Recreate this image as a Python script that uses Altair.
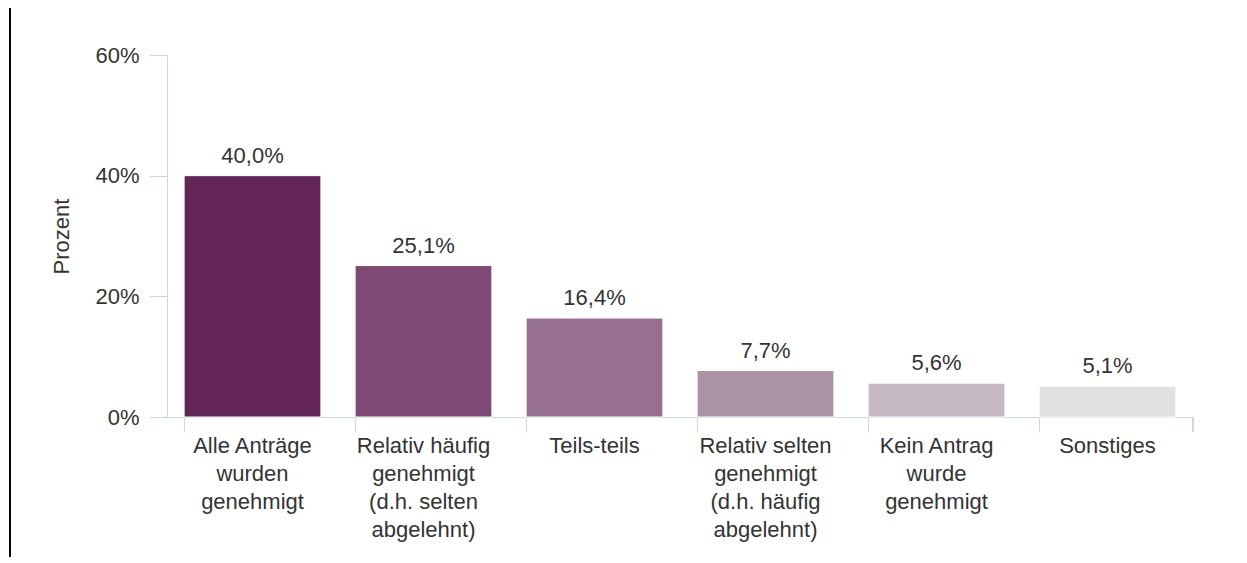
import altair as alt
import pandas as pd

categories = [
    "Alle Anträge\nwurden\ngenehmigt",
    "Relativ häufig\ngenehmigt\n(d.h. selten\nabgelehnt)",
    "Teils-teils",
    "Relativ selten\ngenehmigt\n(d.h. häufig\nabgelehnt)",
    "Kein Antrag\nwurde\ngenehmigt",
    "Sonstiges",
]
values = [40.0, 25.1, 16.4, 7.7, 5.6, 5.1]
colors = ["#632456", "#7e4a74", "#976f8f", "#ab92a6", "#c6b9c3", "#e0e0e0"]
y_ticks = [0, 20, 40, 60]

df = pd.DataFrame({
    "cat": categories,
    "val": values,
    "label": [f"{v:.1f}".replace(".", ",") + "%" for v in values],
    "color": colors,
})

FONT = "Liberation Sans"
AXIS_COL = "#ccd6eb"
TXT = "#333333"
W, H = 1026, 362
LEFT = 159

x = alt.X(
    "cat:N",
    sort=categories,
    title=None,
    scale=alt.Scale(paddingInner=0.2, paddingOuter=0.1),
    axis=alt.Axis(
        labelAngle=0,
        labelExpr="split(datum.label, '\\n')",
        labelLineHeight=28,
        labelFontSize=22,
        labelColor=TXT,
        labelFont=FONT,
        labelPadding=3,
        labelLimit=300,
        tickSize=15,
        tickColor=AXIS_COL,
        domainColor=AXIS_COL,
        bandPosition=0,
        labelBaseline="top",
    ),
)
y = alt.Y(
    "val:Q",
    title="Prozent",
    scale=alt.Scale(domain=[0, 60], nice=False),
    axis=alt.Axis(
        values=y_ticks,
        labelExpr="datum.value + '%'",
        grid=False,
        tickSize=18,
        tickColor=AXIS_COL,
        domainColor=AXIS_COL,
        labelFontSize=22,
        labelColor=TXT,
        labelFont=FONT,
        labelPadding=10,
        titleFontSize=22,
        titleFont=FONT,
        titleColor=TXT,
        titleFontWeight="normal",
        titlePadding=21,
    ),
)

base = alt.Chart(df)
bars = base.mark_bar(stroke="white", strokeWidth=1).encode(
    x=x, y=y, color=alt.Color("color:N", scale=None)
)
text = base.mark_text(
    dy=-8, baseline="bottom", fontSize=22, font=FONT, color=TXT
).encode(x=alt.X("cat:N", sort=categories), y="val:Q", text="label:N")

last_tick = base.mark_rule(color=AXIS_COL, strokeWidth=1).encode(
    x=alt.value(W), y=alt.value(H), y2=alt.value(H + 15)
)
border = base.mark_rule(color="black", strokeWidth=2).encode(
    x=alt.value(-(LEFT - 2)), y=alt.value(-60), y2=alt.value(H + 200)
)

chart = (
    alt.layer(border, bars, text, last_tick)
    .properties(
        width=W,
        height=H,
        background="white",
        autosize=alt.AutoSizeParams(type="none"),
        padding={"left": LEFT, "top": 47, "right": 40, "bottom": 140},
    )
    .configure_view(stroke="transparent")
)

chart.save("out.html", embed_options={"renderer": "svg", "actions": False})
